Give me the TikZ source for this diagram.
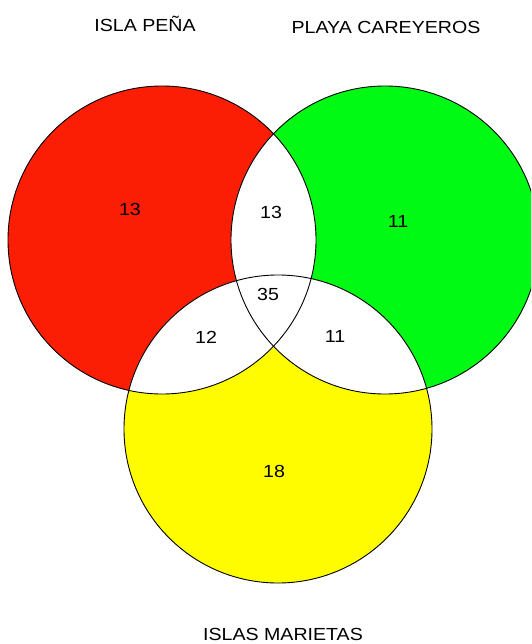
\documentclass[tikz,border=0pt]{standalone}
\usepackage{fontspec}
\setmainfont{Liberation Sans}
\definecolor{vred}{RGB}{252,30,4}
\definecolor{vgreen}{RGB}{0,250,20}
\definecolor{vyellow}{RGB}{255,252,0}
\tikzset{
  lbl/.style={inner sep=0pt, font=\fontsize{17.5}{20}\selectfont, xscale=1.12, text=black},
  ring/.style={draw=black, line width=0.9pt}
}
\begin{document}
\begin{tikzpicture}[x=1pt,y=-1pt]
\useasboundingbox (0,0) rectangle (531,644);
\fill[white] (0,0) rectangle (531,644);
\clip (0,0) rectangle (531,644);
\coordinate (R) at (162,240);
\coordinate (G) at (385,240);
\coordinate (Y) at (278,429);
% coloured discs
\fill[vred] (R) circle[radius=154pt];
\fill[vgreen] (G) circle[radius=154pt];
\fill[vyellow] (Y) circle[radius=154pt];
% white overlaps
\begin{scope}
  \clip (R) circle[radius=154pt];
  \fill[white] (G) circle[radius=154pt];
  \fill[white] (Y) circle[radius=154pt];
\end{scope}
\begin{scope}
  \clip (G) circle[radius=154pt];
  \fill[white] (Y) circle[radius=154pt];
\end{scope}
% outlines
\draw[ring] (R) circle[radius=154pt];
\draw[ring] (G) circle[radius=154pt];
\draw[ring] (Y) circle[radius=154pt];
% labels
\node[lbl] (tpena) at (145,24) {ISLA PEÑA};
\node[lbl] (tplaya) at (386,27) {PLAYA CAREYEROS};
\node[lbl] (tmar) at (283,634) {ISLAS MARIETAS};
\node[lbl] (nred) at (130,209) {13};
\node[lbl] (nrg) at (271,212) {13};
\node[lbl] (ngreen) at (398,221) {11};
\node[lbl] (nall) at (268,294) {35};
\node[lbl] (nry) at (206,337) {12};
\node[lbl] (ngy) at (335,336) {11};
\node[lbl] (nyel) at (274,471) {18};
\end{tikzpicture}
\end{document}
